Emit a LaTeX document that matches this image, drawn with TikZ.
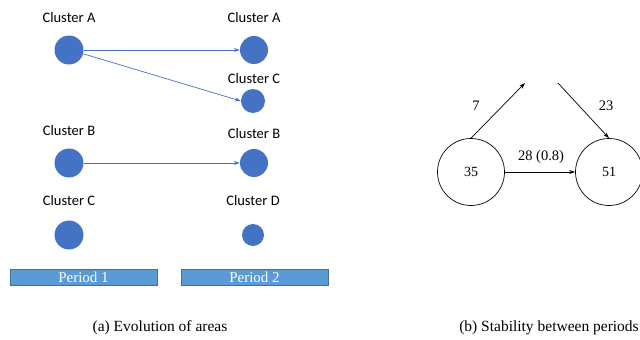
\documentclass[tikz,border=0pt]{standalone}
\usepackage{fontspec}
\setmainfont{Liberation Serif}
\newfontfamily\calib{Carlito}
\usetikzlibrary{arrows.meta}
\definecolor{cblue}{HTML}{4472C4}
\definecolor{pfill}{HTML}{5B9BD5}
\definecolor{pedge}{HTML}{41719C}
\begin{document}
\begin{tikzpicture}[x=1pt,y=-1pt,
  lbl/.style={font=\calib\fontsize{14.5}{16}\selectfont, inner sep=0pt},
  dot/.style={circle, fill=cblue, inner sep=0pt, minimum size=#1},
  barr/.style={draw=cblue, line width=0.7pt, -{Stealth[length=6pt,width=4pt]}},
  period/.style={draw=pedge, fill=pfill, line width=0.8pt, minimum width=147pt, minimum height=16pt, inner sep=0pt, text=white, font=\fontsize{15}{16}\selectfont},
  ring/.style={circle, draw=black, line width=0.7pt, minimum size=67pt, inner sep=0pt, font=\fontsize{14}{16}\selectfont},
  karr/.style={draw=black, line width=0.7pt, -{Stealth[length=6pt,width=4pt]}},
  num/.style={font=\fontsize{14.5}{16}\selectfont, inner sep=0pt},
  captext/.style={font=\fontsize{15.5}{17}\selectfont, inner sep=0pt}]
\useasboundingbox (0,0) rectangle (640,340);
% left panel
\node[lbl] (lA) at (69,18) {Cluster A};
\node[dot=29pt] (a1) at (69,50) {};
\node[lbl] (lB) at (69,131) {Cluster B};
\node[dot=29pt] (b1) at (69,163) {};
\node[lbl] (lC) at (69,201) {Cluster C};
\node[dot=29pt] (c1) at (69,235) {};
\node[lbl] (rA) at (254,18) {Cluster A};
\node[dot=28pt] (a2) at (254,50) {};
\node[lbl] (rC) at (254,79) {Cluster C};
\node[dot=24pt] (c2) at (253,101) {};
\node[lbl] (rB) at (254,134) {Cluster B};
\node[dot=28pt] (b2) at (254,163) {};
\node[lbl] (rD) at (253,201) {Cluster D};
\node[dot=22pt] (d2) at (253,235) {};
\draw[barr] (a1.east) -- (a2.west);
\draw[barr] (a1.-15) -- (c2.west);
\draw[barr] (b1.east) -- (b2.west);
\node[period] (p1) at (83.5,277.5) {Period 1};
\node[period] (p2) at (254.5,277.5) {Period 2};
% right panel
\node[ring] (n35) at (471,172) {35};
\node[ring] (n51) at (609,172) {51};
\coordinate (t1) at (525,83);
\coordinate (t2) at (558,83);
\draw[karr] (n35.north) -- (t1);
\draw[karr] (t2) -- (n51.north);
\draw[karr] (n35.east) -- (n51.west);
\node[num] (l7) at (476,106) {7};
\node[num] (l23) at (606,106) {23};
\node[num] (l28) at (541,157) {28 (0.8)};
% captions
\node[captext] (capa) at (160,328) {(a) Evolution of areas};
\node[captext] (capb) at (549,328) {(b) Stability between periods};
\end{tikzpicture}
\end{document}
